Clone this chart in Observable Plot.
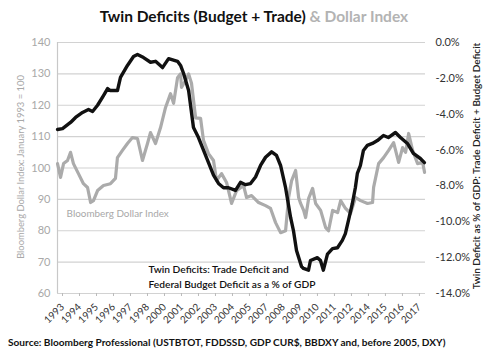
<!DOCTYPE html>
<html><head><meta charset="utf-8">
<script src="https://cdn.jsdelivr.net/npm/d3@7"></script>
<script src="https://cdn.jsdelivr.net/npm/@observablehq/plot@0.6"></script>
<style>
body{margin:0;background:#fff;font-family:Lato,"Open Sans",sans-serif;width:494px;height:352px;overflow:hidden}
#title{height:30px;line-height:32px;text-align:center;font-weight:700;font-size:15.5px;color:#111;white-space:nowrap;padding-left:14px}
#title .g{color:#b3b3b3}
#source{height:19px;line-height:19px;padding-left:8px;font-weight:700;font-size:10.1px;color:#111;white-space:nowrap}
svg{display:block}
</style></head><body>
<div id="title">Twin Deficits (Budget + Trade) <span class="g">&amp; Dollar Index</span></div>
<div id="chart"></div>
<div id="source">Source: Bloomberg Professional (USTBTOT, FDDSSD, GDP CUR$, BBDXY and, before 2005, DXY)</div>
<script>
// Bloomberg Dollar Index (Jan 1993 = 100)
const dollarYears = [1993.00,1993.20,1993.40,1993.66,1993.86,1994.05,1994.38,1994.71,1994.98,1995.18,1995.37,1995.64,1996.03,1996.49,1996.82,1996.95,1997.28,1997.61,1997.94,1998.27,1998.60,1998.93,1999.13,1999.46,1999.79,2000.12,2000.45,2000.65,2000.91,2001.11,2001.17,2001.44,2001.64,2001.83,2002.10,2002.43,2002.62,2002.95,2003.28,2003.48,2003.81,2004.14,2004.47,2004.80,2005.26,2005.46,2005.79,2006.25,2006.71,2007.04,2007.37,2007.70,2008.03,2008.23,2008.43,2008.69,2008.89,2009.02,2009.22,2009.35,2009.55,2009.81,2010.01,2010.34,2010.67,2010.86,2011.13,2011.46,2011.66,2011.98,2012.31,2012.64,2012.97,2013.43,2013.76,2013.83,2014.16,2014.49,2014.82,2015.15,2015.48,2015.74,2015.94,2016.14,2016.40,2016.73,2017.06,2017.19];
const dollarValues = [101.4,97,101.4,102.4,105,101.4,98.2,95,93.8,89,89.6,92.8,94.4,95,96.7,103.3,105.6,107.8,109.7,109.4,102.4,107.8,111.3,107.8,112.9,119.3,123.7,120.6,128.8,130,125.7,127.9,130,127,116,115.8,108.8,104.6,102.4,96,98.2,95.4,88.7,92.8,94.4,90.6,91.2,89,88,87.1,82.6,79.4,80,90.6,96,99.2,90.6,88.7,86.5,84.2,90.3,93.5,88.7,86.5,81,80,86.5,85.8,89.6,87.1,85.5,90.6,89.6,88.7,89,93.8,101.4,103.3,105.6,108.1,101.8,106.5,105,111,105.6,101.4,101.8,98.6];
// Twin deficit as % of GDP
const deficitYears = [1993.00,1993.33,1993.86,1994.19,1994.65,1995.04,1995.31,1995.64,1996.03,1996.30,1996.49,1996.95,1997.15,1997.61,1998.01,1998.27,1998.67,1999.13,1999.46,1999.92,2000.32,2000.91,2001.11,2001.31,2001.64,2001.96,2002.29,2002.62,2002.95,2003.28,2003.61,2003.94,2004.27,2004.73,2005.06,2005.39,2005.72,2006.05,2006.38,2006.71,2007.11,2007.43,2007.70,2008.03,2008.36,2008.55,2008.75,2009.08,2009.21,2009.54,2009.67,2010.13,2010.33,2010.52,2010.79,2011.12,2011.45,2011.77,2011.97,2012.17,2012.43,2012.63,2012.76,2012.96,2013.16,2013.42,2013.75,2014.08,2014.48,2014.80,2015.27,2015.60,2016.06,2016.45,2016.91,2017.18];
const deficitValues = [-4.85,-4.8,-4.46,-4.18,-3.9,-3.74,-3.85,-3.5,-2.96,-2.57,-2.68,-2.68,-1.95,-1.28,-0.78,-0.67,-0.84,-1.1,-1.05,-1.4,-0.9,-1.05,-1.28,-1.73,-2.68,-4.74,-5.3,-6.0,-6.7,-7.4,-7.86,-8.1,-8.1,-8.25,-7.8,-7.93,-7.87,-7.5,-6.86,-6.4,-6.1,-6.3,-6.86,-8.1,-9.76,-10.5,-11.6,-12.5,-12.6,-12.7,-12.16,-12.0,-12.16,-12.7,-11.8,-11.5,-11.45,-11.04,-10.66,-9.93,-8.98,-8.09,-7.3,-6.86,-6.02,-5.74,-5.63,-5.47,-5.19,-5.3,-5.02,-5.3,-5.63,-6.19,-6.47,-6.7];
// axes
const dollarTicks = [140,130,120,110,100,90,80,70,60];
const pctLabels = ["0.0%","-2.0%","-4.0%","-6.0%","-8.0%","-10.0%","-12.0%","-14.0%"];
const pctTicks = [0,-2,-4,-6,-8,-10,-12,-14];
const xTickPositions = [1993.33,1994.45,1995.57,1996.69,1997.81,1998.93,2000.05,2001.17,2002.29,2003.41,2004.53,2005.65,2006.77,2007.89,2009.01,2010.13,2011.25,2012.37,2013.49,2014.61,2015.73,2016.85];
const xTickLabels = ["1993","1994","1995","1996","1997","1998","2000","2001","2002","2003","2004","2005","2007","2008","2009","2010","2011","2012","2014","2015","2016","2017"];

// right axis maps 0% -> 140 and -14% -> 60 on the shared y scale
const pctToY = p => 140 + p * 80 / 14;

const dollar = dollarYears.map((t, i) => ({t, v: dollarValues[i]}));
const deficit = deficitYears.map((t, i) => ({t, v: deficitValues[i]}));

const chart = Plot.plot({
  width: 494, height: 303,
  marginLeft: 57, marginRight: 69, marginTop: 12, marginBottom: 40,
  style: {fontFamily: "Lato, 'Open Sans', sans-serif", fontSize: "11px", background: "white", overflow: "visible"},
  x: {domain: [1993, 2017.25], axis: null},
  y: {domain: [60, 140], axis: null},
  marks: [
    Plot.ruleY(dollarTicks, {stroke: "#d2d2d2", strokeWidth: 1.2}),
    Plot.ruleX([1993], {stroke: "#c8c8c8", strokeWidth: 1.2}),
    Plot.axisY({ticks: dollarTicks, anchor: "left", tickSize: 0, tickPadding: 7, fill: "#a8a8a8", fontSize: 11, label: null}),
    Plot.axisY({ticks: pctTicks.map(pctToY), anchor: "right", tickSize: 0, tickPadding: 10, fill: "#333", fontSize: 11, label: null,
      tickFormat: d => pctLabels[pctTicks.map(pctToY).indexOf(d)]}),
    Plot.axisX({ticks: xTickPositions, tickFormat: d => xTickLabels[xTickPositions.indexOf(d)], tickRotate: -45, tickSize: 3, stroke: "#bbb", fill: "#333", fontSize: 10, label: null}),
    Plot.text(["Bloomberg Dollar Index: January 1993 = 100"], {frameAnchor: "left", textAnchor: "middle", rotate: -90, dx: -37, dy: -1, fill: "#a8a8a8", fontSize: 9.4}),
    Plot.text(["Twin Deficit as % of GDP: Trade Deficit + Budget Deficit"], {frameAnchor: "right", textAnchor: "middle", rotate: -90, dx: 51, dy: -2, fill: "#222", fontSize: 10, fontWeight: 600}),
    Plot.line(dollar, {x: "t", y: "v", stroke: "#ababab", strokeWidth: 3.2, strokeLinejoin: "round"}),
    Plot.line(deficit, {x: "t", y: d => pctToY(d.v), stroke: "#111", strokeWidth: 3.4, strokeLinejoin: "round"}),
    Plot.text(["Bloomberg Dollar Index"], {x: 1993.6, y: 85.5, textAnchor: "start", fill: "#a8a8a8", fontSize: 9.9}),
    Plot.text(["Twin Deficits: Trade Deficit and\nFederal Budget Deficit as a % of GDP"], {x: 1999.0, y: 65.6, textAnchor: "start", lineAnchor: "middle", fill: "#111", fontSize: 10.2, fontWeight: 600, lineHeight: 1.4})
  ]
});
document.getElementById("chart").appendChild(chart);
</script>
</body></html>
